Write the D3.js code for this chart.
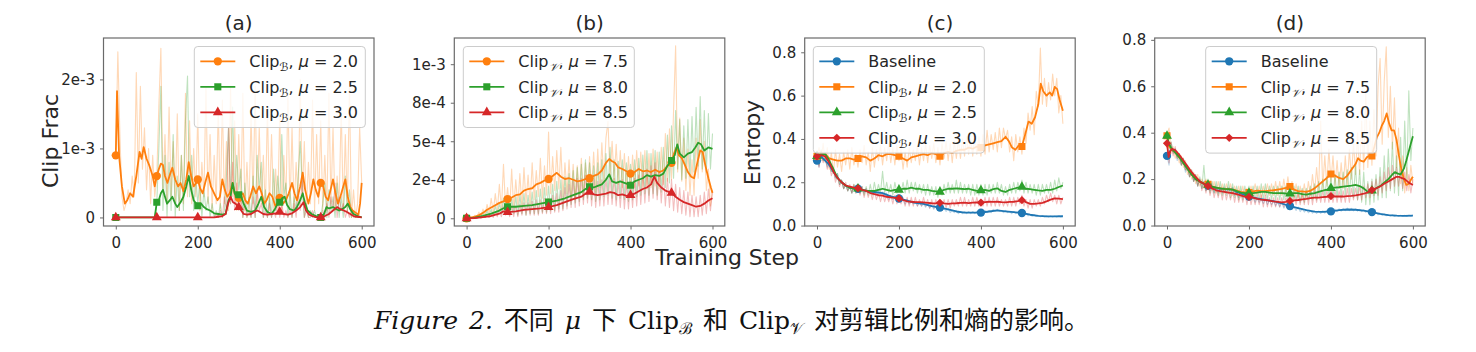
<!DOCTYPE html>
<html><head><meta charset="utf-8">
<script src="https://cdn.jsdelivr.net/npm/d3@7"></script>
<style>body{margin:0;background:#fff;} svg{display:block;} text{font-family:"DejaVu Sans",sans-serif;}</style>
</head><body><svg id="chart" width="1476" height="352"></svg>
<script>
// ---------------- DATA ----------------
const xTicks=[0,200,400,600];
const markerSteps=[0,100,200,300,400,500];
const panelTitles=["(a)","(b)","(c)","(d)"];
const yTicksA=[0,1,2]; const yTickLabelsA=["0","1e-3","2e-3"];           // units of 1e-3
const yTicksB=[0,2.5,5,7.5,10]; const yTickLabelsB=["0","2e-4","5e-4","8e-4","1e-3"]; // units of 1e-4
const yTicksC=[0,0.2,0.4,0.6,0.8]; const yTickLabelsC=["0.0","0.2","0.4","0.6","0.8"];
const yTicksD=[0,0.2,0.4,0.6,0.8]; const yTickLabelsD=["0.0","0.2","0.4","0.6","0.8"];
const legendMuA=["2.0","2.5","3.0"];
const legendMuB=["7.5","8.0","8.5"];
const legendMuC=["Baseline","2.0","2.5","3.0"];
const legendMuD=["Baseline","7.5","8.0","8.5"];

// raw curves: one value every 5 steps, 0..600
const aOrangeRaw=[0.9,2.4,1.2,0.3,0.1,0.2,0.4,0.2,0.6,0.3, 2.1,0.5,1.9,0.7,1.3,0.4,1.0,0.2,0.9,0.3, 0.6,1.6,2.45,0.4,1.2,0.2,1.6,0.3,1.1,0.2, 1.5,0.1,0.9,0.2,1.8,0.3,1.4,0.2,1.0,0.3, 1.5,0.1,0.8,0.3,1.9,0.2,1.2,0.1,0.9,0.2, 1.6,0.1,1.7,0.2,1.1,0.1,1.9,0.3,1.4,0.1, 1.2,0.2,1.8,0.1,0.8,0.1,1.5,0.2,1.9,0.1, 1.3,0.2,0.9,0.1,1.6,0.1,1.2,0.1,0.7,0.1, 1.5,0.1,0.9,0.2,1.8,0.1,1.3,0.1,0.8,0.2, 2.0,0.3,1.1,0.1,0.8,0.2,1.7,0.1,1.2,0.2, 1.4,0.1,0.9,0.1,1.8,0.2,1.3,0.1,0.6,0.2, 1.6,0.1,1.2,0.1,1.9,0.0,0.4,0.0,0.2,1.3, 0.5];
const aGreenRaw=[0,0,0,0,0,0,0,0,0,0, 0,0,0,0,0,0,0,0,0,0, 0.2,1.0,1.9,0.1,0.9,0.0,0.8,0.1,1.2,0.0, 0.6,0.1,0.9,0.1,1.4,2.05,0.3,0.9,0.1,0.6, 0.2,0.5,0.0,0.4,0.1,0.3,0.0,0.2,0.0,0.1, 0.0,0.2,0.0,0.1,0.6,1.3,0.2,1.6,0.3,0.9, 0.4,0.7,0.0,0.5,0.0,0.3,0.0,0.6,0.0,0.9, 0.4,0.8,0.0,0.4,0.0,0.3,0.0,0.7,0.1,0.6, 0.2,1.2,0.3,0.5,0.0,0.4,0.0,0.3,0.1,0.6, 1.1,0.4,0.0,0.2,0.0,0.1,0.0,0.1,0.0,0.0, 0.0,0.2,0.5,0.0,0.4,0.1,0.3,0.0,0.5,0.0, 0.3,0.0,0.6,0.1,0.4,0.0,0.1,0.0,0.0,0.0, 0.0];
const aRedRaw=[0,0,0,0,0,0,0,0,0,0, 0,0,0,0,0,0,0,0,0,0, 0,0,0,0,0,0,0,0,0,0, 0,0,0,0,0,0,0,0,0,0, 0,0,0,0,0,0,0,0,0,0.05, 0.0,0.1,0.0,0.3,0.1,1.3,0.2,0.8,0.1,0.5, 0.1,0.3,0.0,0.2,0.0,0.1,0.0,0.3,0.0,0.4, 0.1,0.2,0.0,0.1,0.0,0.2,0.0,0.1,0.0,0.3, 0.0,0.2,0.0,0.1,0.0,0.1,0.0,0.2,0.0,0.4, 0.1,0.6,0.0,0.1,0.0,0.0,0.1,0.0,0.0,0.0, 0.0,0.1,0.0,0.2,0.0,0.3,0.1,0.5,0.0,0.3, 0.1,0.2,0.0,0.1,0.0,0.1,0.0,0.0,0.0,0.0, 0.0];
const bOrangeRaw=[0,0.05,0.1,0.0,0.2,0.05,0.4,0.1,0.6,0.2, 0.9,0.3,1.3,0.4,1.6,0.5,2.2,0.6,3.5,0.7, 2.0,0.5,3.2,0.6,2.5,0.8,2.9,0.7,3.3,1.0, 2.8,0.9,3.6,1.2,3.1,1.4,3.9,1.3,3.4,1.5, 5.6,1.6,4.0,1.8,4.4,1.9,4.6,1.4,3.6,1.6, 3.8,1.3,3.5,1.2,3.4,1.5,3.9,1.4,3.6,1.6, 4.0,1.8,4.3,1.7,4.5,2.0,4.9,2.4,5.2,6.3, 2.6,5.0,2.5,4.8,2.2,4.4,2.0,4.2,1.9,4.0, 1.8,4.1,2.0,4.4,2.1,4.3,2.0,4.4,1.9,4.2, 2.0,4.5,2.1,4.3,1.9,4.6,2.2,5.5,2.4,5.8, 2.5,7.0,11.2,3.0,6.5,2.4,5.2,1.8,4.5,1.5, 3.8,1.5,5.2,2.6,6.4,3.0,5.0,1.8,3.2,0.8, 1.8];
const bGreenRaw=[0,0.0,0.05,0.0,0.1,0.0,0.15,0.05,0.3,0.05, 0.5,0.1,0.6,0.15,0.8,0.2,1.0,0.3,1.3,0.3, 1.2,0.2,1.3,0.3,1.4,0.2,1.5,0.3,1.6,0.2, 1.5,0.3,1.7,0.3,1.8,0.3,1.9,0.4,2.0,0.4, 2.1,0.5,2.2,0.5,2.4,0.6,2.5,0.6,2.7,0.8, 2.9,0.9,3.1,1.0,3.3,1.1,3.5,1.2,3.8,1.3, 3.6,1.2,3.4,1.1,3.6,1.2,3.8,1.4,4.2,1.5, 4.6,1.3,3.8,1.2,3.7,1.3,3.8,1.2,3.6,1.1, 3.5,1.2,3.8,1.4,3.9,1.5,4.1,1.6,4.4,1.5, 4.2,1.6,4.4,1.5,4.3,1.7,4.6,2.0,5.4,2.3, 6.0,2.6,7.0,3.2,6.4,2.5,6.0,2.6,6.4,2.7, 6.6,3.0,7.2,3.4,7.9,3.2,7.0,3.0,6.8,3.2, 5.5];
const bRedRaw=[0,0,0.0,0.0,0.05,0.0,0.1,0.0,0.15,0.05, 0.2,0.05,0.3,0.05,0.4,0.1,0.6,0.1,0.8,0.2, 0.7,0.1,0.8,0.1,0.8,0.1,0.9,0.2,1.0,0.2, 1.0,0.2,1.1,0.2,1.2,0.2,1.2,0.3,1.3,0.3, 1.3,0.3,1.5,0.4,1.6,0.4,1.8,0.5,2.0,0.6, 2.2,0.7,2.4,0.7,2.6,0.8,2.6,0.9,2.8,1.0, 2.7,0.8,2.5,0.7,2.4,0.8,2.5,0.8,2.6,0.9, 2.8,0.9,2.6,0.8,2.4,0.7,2.5,0.6,2.3,0.6, 2.4,0.7,2.6,0.8,2.8,0.9,3.0,1.0,3.2,1.1, 3.4,1.3,3.6,1.2,3.1,1.0,2.9,0.8,2.6,0.7, 2.5,0.5,2.2,0.4,2.0,0.3,1.8,0.2,1.7,0.1, 1.5,0.1,1.4,0.1,1.5,0.2,1.7,0.3,1.9,0.5, 1.8];
const cBlueRaw=[0.30,0.27,0.34,0.30,0.31,0.27,0.29,0.25,0.26,0.22, 0.24,0.19,0.21,0.17,0.19,0.16,0.18,0.15,0.18,0.16, 0.18,0.15,0.17,0.15,0.17,0.15,0.16,0.15,0.16,0.14, 0.16,0.14,0.155,0.13,0.15,0.12,0.14,0.12,0.13,0.12, 0.13,0.11,0.12,0.10,0.12,0.10,0.11,0.10,0.11,0.09, 0.105,0.09,0.10,0.085,0.10,0.08,0.095,0.075,0.09,0.07, 0.09,0.07,0.08,0.065,0.08,0.06,0.07,0.06,0.07,0.055, 0.065,0.055,0.065,0.055,0.065,0.055,0.065,0.055,0.065,0.055, 0.065,0.06,0.07,0.06,0.07,0.06,0.075,0.065,0.075,0.065, 0.07,0.06,0.07,0.06,0.065,0.055,0.065,0.055,0.062,0.052, 0.06,0.05,0.055,0.045,0.052,0.043,0.05,0.042,0.047,0.04, 0.046,0.04,0.045,0.039,0.044,0.039,0.044,0.039,0.045,0.04, 0.045];
const cOrangeRaw=[0.32,0.36,0.30,0.38,0.29,0.36,0.26,0.34,0.24,0.35, 0.27,0.33,0.25,0.34,0.28,0.35,0.26,0.36,0.28,0.33, 0.27,0.35,0.29,0.37,0.28,0.34,0.25,0.36,0.27,0.35, 0.30,0.37,0.28,0.36,0.30,0.38,0.29,0.36,0.28,0.37, 0.30,0.35,0.26,0.34,0.27,0.36,0.29,0.35,0.30,0.37, 0.28,0.36,0.30,0.38,0.29,0.37,0.31,0.38,0.29,0.36, 0.28,0.38,0.31,0.39,0.30,0.38,0.29,0.39,0.31,0.40, 0.31,0.40,0.32,0.41,0.33,0.40,0.32,0.42,0.33,0.41, 0.32,0.42,0.33,0.44,0.34,0.42,0.35,0.43,0.34,0.45, 0.36,0.45,0.40,0.44,0.34,0.41,0.30,0.42,0.34,0.41, 0.33,0.45,0.38,0.52,0.44,0.55,0.42,0.62,0.55,0.82, 0.56,0.68,0.55,0.66,0.58,0.70,0.60,0.68,0.52,0.60, 0.47];
const cGreenRaw=[0.32,0.28,0.35,0.30,0.34,0.28,0.30,0.25,0.27,0.22, 0.24,0.19,0.21,0.17,0.19,0.16,0.18,0.15,0.19,0.15, 0.19,0.15,0.18,0.14,0.18,0.14,0.19,0.14,0.20,0.15, 0.19,0.15,0.25,0.15,0.20,0.15,0.19,0.14,0.20,0.15, 0.19,0.15,0.20,0.15,0.21,0.15,0.20,0.16,0.20,0.15, 0.19,0.15,0.19,0.14,0.19,0.14,0.18,0.14,0.18,0.13, 0.18,0.14,0.19,0.15,0.20,0.15,0.19,0.15,0.21,0.15, 0.20,0.15,0.19,0.15,0.19,0.14,0.19,0.14,0.19,0.14, 0.19,0.14,0.19,0.14,0.19,0.15,0.19,0.15,0.20,0.15, 0.19,0.14,0.18,0.14,0.19,0.15,0.20,0.15,0.20,0.16, 0.21,0.15,0.20,0.15,0.19,0.15,0.19,0.14,0.19,0.14, 0.19,0.15,0.19,0.15,0.20,0.15,0.21,0.16,0.22,0.17, 0.20];
const cRedRaw=[0.32,0.27,0.34,0.29,0.32,0.26,0.29,0.23,0.26,0.20, 0.23,0.18,0.21,0.17,0.20,0.16,0.19,0.15,0.19,0.15, 0.18,0.14,0.18,0.13,0.17,0.13,0.16,0.12,0.16,0.12, 0.15,0.11,0.15,0.11,0.14,0.11,0.14,0.10,0.14,0.10, 0.13,0.10,0.13,0.09,0.13,0.09,0.13,0.09,0.13,0.09, 0.12,0.09,0.13,0.09,0.12,0.08,0.12,0.08,0.12,0.08, 0.12,0.08,0.12,0.08,0.12,0.08,0.12,0.09,0.12,0.09, 0.13,0.09,0.13,0.09,0.12,0.09,0.13,0.09,0.13,0.09, 0.12,0.09,0.13,0.09,0.13,0.09,0.13,0.09,0.13,0.09, 0.12,0.09,0.12,0.09,0.13,0.09,0.13,0.09,0.13,0.10, 0.14,0.09,0.12,0.08,0.12,0.08,0.12,0.09,0.12,0.09, 0.13,0.10,0.14,0.11,0.15,0.11,0.14,0.10,0.14,0.10, 0.13];
const dBlueRaw=[0.30,0.26,0.35,0.31,0.33,0.28,0.30,0.26,0.28,0.23, 0.25,0.21,0.23,0.19,0.21,0.17,0.20,0.16,0.19,0.15, 0.18,0.15,0.17,0.14,0.17,0.14,0.165,0.14,0.165,0.14, 0.165,0.14,0.165,0.13,0.15,0.12,0.145,0.12,0.135,0.11, 0.13,0.11,0.125,0.10,0.12,0.10,0.115,0.095,0.115,0.09, 0.11,0.09,0.105,0.085,0.10,0.08,0.10,0.075,0.09,0.07, 0.09,0.07,0.08,0.065,0.08,0.06,0.072,0.058,0.068,0.055, 0.065,0.053,0.063,0.052,0.062,0.052,0.063,0.053,0.065,0.055, 0.066,0.058,0.07,0.06,0.072,0.062,0.074,0.064,0.075,0.064, 0.074,0.063,0.072,0.062,0.07,0.06,0.068,0.057,0.065,0.054, 0.062,0.05,0.056,0.046,0.053,0.044,0.05,0.042,0.048,0.04, 0.046,0.039,0.045,0.039,0.044,0.039,0.044,0.039,0.045,0.04, 0.045];
const dOrangeRaw=[0.39,0.42,0.31,0.34,0.29,0.32,0.27,0.30,0.25,0.28, 0.22,0.25,0.20,0.23,0.18,0.22,0.17,0.20,0.16,0.20, 0.16,0.19,0.15,0.19,0.14,0.19,0.14,0.18,0.14,0.18, 0.14,0.18,0.13,0.17,0.13,0.17,0.12,0.17,0.12,0.16, 0.12,0.17,0.13,0.18,0.13,0.17,0.12,0.17,0.13,0.18, 0.13,0.18,0.13,0.19,0.13,0.19,0.13,0.20,0.14,0.21, 0.14,0.19,0.12,0.18,0.12,0.17,0.12,0.18,0.12,0.19, 0.13,0.22,0.14,0.25,0.15,0.45,0.16,0.30,0.17,0.33, 0.19,0.30,0.17,0.28,0.16,0.27,0.16,0.30,0.17,0.33, 0.20,0.36,0.22,0.40,0.22,0.45,0.24,0.57,0.25,0.45, 0.26,0.50,0.30,0.60,0.72,0.35,0.62,0.77,0.38,0.60, 0.33,0.55,0.25,0.42,0.18,0.30,0.14,0.25,0.15,0.26, 0.18];
const dGreenRaw=[0.39,0.33,0.36,0.32,0.33,0.29,0.31,0.26,0.29,0.24, 0.26,0.21,0.24,0.19,0.22,0.17,0.21,0.16,0.26,0.15, 0.20,0.14,0.19,0.14,0.19,0.13,0.19,0.13,0.18,0.13, 0.19,0.12,0.18,0.12,0.17,0.11,0.17,0.11,0.17,0.11, 0.17,0.11,0.17,0.11,0.17,0.11,0.18,0.11,0.18,0.11, 0.17,0.11,0.17,0.11,0.17,0.11,0.17,0.11,0.17,0.10, 0.16,0.11,0.17,0.11,0.17,0.10,0.16,0.10,0.16,0.11, 0.17,0.11,0.18,0.11,0.19,0.12,0.20,0.12,0.21,0.12, 0.21,0.12,0.22,0.12,0.23,0.12,0.23,0.13,0.24,0.13, 0.25,0.12,0.26,0.11,0.24,0.10,0.23,0.09,0.19,0.09, 0.20,0.10,0.22,0.11,0.25,0.12,0.30,0.12,0.33,0.15, 0.36,0.14,0.30,0.13,0.38,0.15,0.45,0.20,0.58,0.28, 0.42];
const dRedRaw=[0.35,0.27,0.36,0.30,0.34,0.29,0.31,0.26,0.29,0.24, 0.26,0.21,0.24,0.19,0.22,0.17,0.20,0.15,0.19,0.14, 0.19,0.13,0.17,0.12,0.16,0.12,0.16,0.11,0.16,0.11, 0.15,0.11,0.15,0.10,0.15,0.10,0.14,0.10,0.14,0.09, 0.14,0.09,0.13,0.09,0.13,0.09,0.13,0.08,0.13,0.08, 0.12,0.08,0.12,0.08,0.12,0.08,0.12,0.08,0.12,0.08, 0.13,0.08,0.13,0.09,0.14,0.09,0.14,0.09,0.15,0.09, 0.15,0.09,0.15,0.10,0.15,0.10,0.15,0.10,0.15,0.10, 0.16,0.10,0.15,0.10,0.15,0.10,0.15,0.10,0.16,0.10, 0.16,0.11,0.16,0.11,0.17,0.11,0.17,0.12,0.18,0.12, 0.19,0.13,0.20,0.13,0.21,0.14,0.23,0.15,0.25,0.16, 0.26,0.17,0.25,0.17,0.24,0.16,0.23,0.15,0.22,0.14, 0.20];

// smoothed curves: [step, value]
const aOrangeSmooth=[[0,0.9],[3,1.83],[8,0.9],[15,0.45],[22,0.2],[28,0.25],[35,0.35],[42,0.3],[50,0.6],[58,0.95],[63,0.85],[68,1.02],[75,0.85],[82,0.75],[90,0.6],[95,0.45],[100,0.6],[105,0.7],[110,0.78],[115,0.76],[120,0.6],[126,0.5],[132,0.62],[138,0.72],[145,0.55],[152,0.45],[158,0.5],[165,0.38],[172,0.55],[178,0.8],[184,0.6],[190,0.45],[196,0.5],[200,0.55],[206,0.42],[212,0.35],[218,0.5],[225,0.65],[232,0.45],[240,0.35],[248,0.25],[254,0.3],[260,0.55],[266,0.4],[272,0.3],[278,0.35],[285,0.5],[290,0.35],[296,0.25],[302,0.3],[310,0.35],[316,0.25],[322,0.2],[328,0.3],[335,0.45],[342,0.35],[350,0.45],[356,0.35],[362,0.2],[368,0.25],[375,0.35],[382,0.3],[390,0.15],[396,0.25],[402,0.3],[408,0.2],[415,0.25],[422,0.35],[430,0.5],[436,0.35],[442,0.25],[450,0.45],[456,0.65],[462,0.4],[470,0.2],[476,0.35],[482,0.55],[488,0.4],[494,0.3],[500,0.5],[506,0.45],[512,0.3],[518,0.25],[524,0.4],[530,0.55],[536,0.35],[542,0.2],[548,0.3],[555,0.45],[560,0.55],[566,0.3],[572,0.15],[578,0.1],[585,0.07],[592,0.04],[596,0.2],[600,0.5]];
const aGreenSmooth=[[0,0],[95,0],[100,0.22],[105,0.25],[110,0.35],[115,0.4],[120,0.3],[125,0.2],[132,0.25],[138,0.3],[145,0.2],[150,0.15],[158,0.22],[165,0.3],[172,0.45],[178,0.6],[184,0.4],[190,0.25],[196,0.2],[200,0.17],[208,0.2],[215,0.15],[222,0.12],[230,0.1],[240,0.06],[250,0.05],[260,0.04],[268,0.05],[275,0.25],[280,0.3],[285,0.5],[290,0.35],[295,0.3],[300,0.33],[306,0.3],[312,0.2],[320,0.1],[330,0.08],[340,0.1],[348,0.2],[355,0.3],[362,0.15],[370,0.08],[380,0.05],[388,0.12],[395,0.2],[400,0.22],[406,0.28],[412,0.3],[418,0.18],[425,0.12],[435,0.1],[442,0.15],[450,0.25],[456,0.35],[462,0.2],[468,0.1],[478,0.05],[488,0.02],[495,0.0],[500,0.0],[508,0.05],[514,0.15],[520,0.13],[530,0.15],[538,0.12],[545,0.1],[552,0.12],[560,0.15],[566,0.2],[572,0.12],[580,0.05],[590,0.02],[600,0.0]];
const aRedSmooth=[[0,0],[240,0],[250,0.01],[260,0.02],[268,0.05],[274,0.2],[280,0.3],[286,0.22],[292,0.2],[300,0.15],[306,0.1],[312,0.05],[320,0.04],[330,0.05],[338,0.08],[345,0.1],[352,0.08],[360,0.05],[370,0.04],[380,0.05],[390,0.06],[400,0.08],[410,0.05],[420,0.04],[430,0.06],[440,0.1],[450,0.15],[458,0.22],[464,0.1],[472,0.04],[480,0.02],[490,0.0],[500,0.0],[510,0.02],[520,0.05],[530,0.1],[540,0.15],[548,0.12],[556,0.1],[564,0.08],[572,0.05],[580,0.02],[590,0.01],[600,0.0]];
const bOrangeSmooth=[[0,0],[10,0.05],[20,0.1],[30,0.2],[40,0.35],[50,0.55],[60,0.7],[70,0.85],[80,1.0],[90,1.1],[100,1.25],[110,1.35],[120,1.5],[130,1.55],[140,1.8],[150,1.9],[160,1.95],[170,2.2],[180,2.3],[190,2.45],[200,2.55],[210,2.75],[220,2.95],[230,2.7],[240,2.55],[250,2.6],[260,2.5],[270,2.4],[280,2.45],[290,2.55],[300,2.6],[310,2.75],[320,2.85],[330,3.1],[340,3.6],[348,3.85],[355,3.7],[362,3.6],[370,3.3],[380,3.2],[390,3.05],[400,2.9],[410,3.0],[420,3.2],[430,3.05],[440,3.1],[450,3.0],[460,3.15],[470,3.0],[480,3.1],[490,3.4],[500,3.6],[506,4.2],[512,4.6],[518,4.1],[525,3.9],[532,3.5],[540,3.0],[548,2.7],[555,2.6],[562,3.5],[570,4.4],[576,4.3],[582,3.5],[590,2.6],[596,2.0],[600,1.65]];
const bGreenSmooth=[[0,0],[20,0.05],[40,0.15],[60,0.3],[80,0.5],[90,0.65],[100,0.75],[120,0.75],[140,0.8],[160,0.85],[180,0.95],[200,1.05],[220,1.15],[240,1.3],[260,1.5],[280,1.7],[290,1.9],[300,2.05],[310,2.0],[320,2.1],[330,2.2],[340,2.5],[348,2.85],[355,2.4],[365,2.3],[375,2.4],[385,2.3],[395,2.2],[400,2.15],[410,2.4],[420,2.5],[430,2.6],[440,2.8],[450,2.7],[460,2.8],[470,2.75],[480,2.9],[490,3.4],[500,3.75],[508,4.1],[514,4.8],[520,4.2],[530,3.95],[540,4.2],[550,4.3],[558,4.6],[565,4.9],[572,4.8],[580,4.4],[590,4.6],[600,4.5]];
const bRedSmooth=[[0,0],[20,0.02],[40,0.08],[60,0.15],[80,0.3],[90,0.45],[100,0.4],[120,0.45],[140,0.55],[160,0.6],[180,0.65],[200,0.72],[220,0.85],[240,1.05],[260,1.25],[280,1.4],[290,1.6],[300,1.72],[310,1.55],[320,1.5],[330,1.55],[340,1.6],[350,1.7],[360,1.65],[370,1.5],[380,1.55],[390,1.45],[400,1.5],[410,1.6],[420,1.75],[430,1.9],[440,2.0],[450,2.2],[458,2.7],[465,2.3],[475,2.0],[485,1.8],[495,1.7],[500,1.65],[510,1.4],[520,1.2],[530,1.05],[540,0.95],[550,0.85],[560,0.75],[570,0.8],[580,0.95],[590,1.15],[600,1.3]];
const cBlueSmooth=[[0,0.30],[5,0.3],[10,0.32],[20,0.30],[30,0.28],[40,0.25],[50,0.22],[60,0.2],[70,0.185],[80,0.175],[90,0.17],[100,0.17],[120,0.16],[140,0.155],[160,0.15],[180,0.135],[200,0.125],[220,0.115],[240,0.105],[260,0.1],[280,0.09],[300,0.083],[320,0.075],[340,0.065],[360,0.06],[380,0.06],[400,0.06],[420,0.065],[440,0.07],[460,0.066],[480,0.062],[500,0.058],[520,0.05],[540,0.045],[560,0.042],[580,0.042],[600,0.043]];
const cOrangeSmooth=[[0,0.32],[10,0.335],[20,0.33],[30,0.31],[40,0.305],[50,0.30],[60,0.30],[70,0.31],[80,0.31],[90,0.305],[100,0.31],[110,0.32],[120,0.315],[130,0.30],[140,0.31],[150,0.325],[160,0.32],[170,0.33],[180,0.33],[190,0.325],[200,0.32],[210,0.31],[220,0.30],[230,0.315],[240,0.32],[250,0.325],[260,0.33],[270,0.325],[280,0.335],[290,0.33],[300,0.32],[310,0.335],[320,0.34],[330,0.335],[340,0.345],[350,0.35],[360,0.35],[370,0.36],[380,0.355],[390,0.365],[400,0.36],[410,0.37],[420,0.375],[430,0.38],[440,0.385],[450,0.39],[460,0.41],[468,0.39],[476,0.36],[484,0.35],[492,0.37],[500,0.365],[508,0.42],[516,0.48],[524,0.47],[532,0.5],[540,0.56],[546,0.655],[552,0.62],[560,0.6],[568,0.615],[574,0.6],[580,0.64],[586,0.63],[592,0.58],[600,0.53]];
const cGreenSmooth=[[0,0.32],[10,0.33],[20,0.33],[30,0.3],[40,0.26],[50,0.22],[60,0.2],[70,0.185],[80,0.175],[90,0.17],[100,0.17],[110,0.165],[120,0.16],[130,0.16],[140,0.16],[150,0.165],[160,0.17],[170,0.165],[180,0.16],[190,0.165],[200,0.165],[210,0.17],[220,0.17],[230,0.175],[240,0.17],[250,0.17],[260,0.165],[270,0.165],[280,0.16],[290,0.158],[300,0.155],[310,0.165],[320,0.17],[330,0.17],[340,0.172],[350,0.17],[360,0.168],[370,0.17],[380,0.165],[390,0.16],[400,0.162],[410,0.165],[420,0.16],[430,0.168],[440,0.172],[450,0.16],[460,0.155],[470,0.165],[480,0.17],[490,0.175],[500,0.178],[510,0.17],[520,0.168],[530,0.165],[540,0.162],[550,0.16],[560,0.165],[570,0.165],[580,0.17],[590,0.178],[600,0.185]];
const cRedSmooth=[[0,0.32],[10,0.325],[20,0.32],[30,0.29],[40,0.25],[50,0.22],[60,0.2],[70,0.185],[80,0.18],[90,0.175],[100,0.172],[110,0.165],[120,0.16],[130,0.15],[140,0.145],[150,0.14],[160,0.138],[170,0.133],[180,0.13],[190,0.128],[200,0.125],[210,0.118],[220,0.112],[230,0.11],[240,0.108],[250,0.108],[260,0.107],[270,0.105],[280,0.103],[290,0.102],[300,0.105],[310,0.102],[320,0.1],[330,0.102],[340,0.103],[350,0.105],[360,0.106],[370,0.104],[380,0.106],[390,0.107],[400,0.106],[410,0.108],[420,0.11],[430,0.109],[440,0.11],[450,0.108],[460,0.107],[470,0.109],[480,0.11],[490,0.113],[500,0.117],[510,0.108],[520,0.1],[530,0.1],[540,0.102],[550,0.105],[560,0.112],[570,0.12],[580,0.126],[590,0.124],[600,0.122]];
const dBlueSmooth=[[0,0.30],[5,0.31],[10,0.33],[20,0.315],[30,0.295],[40,0.27],[50,0.245],[60,0.22],[70,0.2],[80,0.19],[90,0.18],[100,0.172],[110,0.165],[120,0.16],[140,0.157],[160,0.155],[170,0.145],[180,0.138],[200,0.125],[220,0.117],[240,0.11],[260,0.105],[280,0.095],[300,0.084],[320,0.075],[340,0.066],[360,0.06],[380,0.059],[400,0.061],[420,0.066],[440,0.069],[460,0.068],[480,0.064],[500,0.058],[520,0.05],[540,0.045],[560,0.043],[580,0.042],[600,0.043]];
const dOrangeSmooth=[[0,0.387],[5,0.34],[10,0.33],[20,0.315],[30,0.295],[40,0.27],[50,0.245],[60,0.22],[70,0.2],[80,0.19],[90,0.18],[100,0.178],[110,0.168],[120,0.163],[130,0.16],[140,0.158],[150,0.157],[160,0.155],[170,0.15],[180,0.145],[190,0.143],[200,0.142],[210,0.147],[220,0.15],[230,0.148],[240,0.148],[250,0.15],[260,0.152],[270,0.155],[280,0.158],[290,0.162],[300,0.168],[310,0.155],[320,0.148],[330,0.147],[340,0.145],[350,0.15],[360,0.16],[370,0.175],[380,0.19],[390,0.205],[400,0.222],[410,0.215],[420,0.205],[430,0.2],[440,0.215],[450,0.24],[460,0.265],[466,0.29],[472,0.28],[480,0.275],[488,0.295],[494,0.3],[500,0.3],[506,0.34],[512,0.38],[518,0.4],[524,0.43],[530,0.45],[536,0.483],[542,0.44],[548,0.41],[554,0.41],[560,0.37],[566,0.3],[572,0.24],[578,0.2],[584,0.175],[590,0.18],[596,0.2],[600,0.21]];
const dGreenSmooth=[[0,0.386],[5,0.35],[10,0.335],[20,0.315],[30,0.295],[40,0.27],[50,0.245],[60,0.22],[70,0.2],[80,0.19],[90,0.18],[100,0.175],[110,0.168],[120,0.163],[130,0.16],[140,0.158],[150,0.157],[160,0.155],[170,0.148],[180,0.142],[190,0.14],[200,0.14],[210,0.14],[220,0.142],[230,0.145],[240,0.145],[250,0.142],[260,0.14],[270,0.14],[280,0.14],[290,0.138],[300,0.137],[310,0.14],[320,0.14],[330,0.135],[340,0.133],[350,0.137],[360,0.14],[370,0.145],[380,0.15],[390,0.155],[400,0.161],[410,0.163],[420,0.165],[430,0.168],[440,0.17],[450,0.172],[460,0.175],[470,0.17],[480,0.16],[490,0.145],[500,0.15],[510,0.16],[520,0.17],[530,0.185],[540,0.2],[550,0.22],[556,0.23],[562,0.225],[570,0.22],[578,0.245],[584,0.28],[590,0.32],[596,0.36],[600,0.385]];
const dRedSmooth=[[0,0.354],[4,0.295],[8,0.32],[12,0.33],[20,0.325],[30,0.305],[40,0.28],[50,0.255],[60,0.23],[70,0.21],[80,0.19],[90,0.18],[100,0.17],[110,0.16],[120,0.152],[130,0.148],[140,0.145],[150,0.142],[160,0.14],[170,0.135],[180,0.13],[190,0.125],[200,0.123],[210,0.12],[220,0.115],[230,0.112],[240,0.11],[250,0.107],[260,0.104],[270,0.102],[280,0.1],[290,0.102],[300,0.106],[310,0.108],[320,0.11],[330,0.113],[340,0.115],[350,0.118],[360,0.12],[370,0.12],[380,0.122],[390,0.124],[400,0.127],[410,0.125],[420,0.125],[430,0.125],[440,0.127],[450,0.128],[460,0.13],[470,0.133],[480,0.137],[490,0.143],[500,0.153],[510,0.16],[520,0.168],[530,0.18],[540,0.19],[550,0.2],[560,0.21],[566,0.21],[572,0.205],[580,0.2],[590,0.185],[600,0.175]];

// ---------------- STYLE / LAYOUT ----------------
const C={blue:"#1f77b4",orange:"#ff7f0e",green:"#2ca02c",red:"#d62728"};
const TXT="#262626", SPINE="#6a6a6a";
const BOXW=270.5, TOP=38, BOTTOM=226;
const TICKFS=15, LEGFS=16;
const panels=[
 {left:103.5, ydom:[-0.124,2.6], yt:yTicksA, yl:yTickLabelsA, sub:"ℬ", mus:legendMuA, legX:194.3,
  series:[{c:C.orange,m:"circle",raw:aOrangeRaw,sm:aOrangeSmooth},{c:C.green,m:"square",raw:aGreenRaw,sm:aGreenSmooth},{c:C.red,m:"triangle",raw:aRedRaw,sm:aRedSmooth}]},
 {left:454.3, ydom:[-0.5,11.7], yt:yTicksB, yl:yTickLabelsB, sub:"𝒱", mus:legendMuB, legX:463.3,
  series:[{c:C.orange,m:"circle",raw:bOrangeRaw,sm:bOrangeSmooth},{c:C.green,m:"square",raw:bGreenRaw,sm:bGreenSmooth},{c:C.red,m:"triangle",raw:bRedRaw,sm:bRedSmooth}]},
 {left:804.7, ydom:[-0.002,0.866], yt:yTicksC, yl:yTickLabelsC, sub:"ℬ", mus:legendMuC, legX:813.3,
  series:[{c:C.blue,m:"circle",raw:cBlueRaw,sm:cBlueSmooth},{c:C.orange,m:"square",raw:cOrangeRaw,sm:cOrangeSmooth},{c:C.green,m:"triangle",raw:cGreenRaw,sm:cGreenSmooth},{c:C.red,m:"diamond",raw:cRedRaw,sm:cRedSmooth}]},
 {left:1154.7, ydom:[-0.002,0.808], yt:yTicksD, yl:yTickLabelsD, sub:"𝒱", mus:legendMuD, legX:1205.7,
  series:[{c:C.blue,m:"circle",raw:dBlueRaw,sm:dBlueSmooth},{c:C.orange,m:"square",raw:dOrangeRaw,sm:dOrangeSmooth},{c:C.green,m:"triangle",raw:dGreenRaw,sm:dGreenSmooth},{c:C.red,m:"diamond",raw:dRedRaw,sm:dRedSmooth}]}
];

const svg=d3.select("#chart");
svg.append("rect").attr("width",1476).attr("height",352).attr("fill","#fff");

function symbolPath(m){
  if(m==="circle") return d3.symbol().type(d3.symbolCircle).size(54)();
  if(m==="square") return d3.symbol().type(d3.symbolSquare).size(50)();
  if(m==="triangle") return d3.symbol().type(d3.symbolTriangle).size(42)();
  return d3.symbol().type(d3.symbolSquare).size(34)();
}
function valueAt(pairs,s){
  const i=d3.bisector(d=>d[0]).left(pairs,s);
  if(i<pairs.length && pairs[i][0]===s) return pairs[i][1];
  const a=pairs[i-1], b=pairs[i];
  return a[1]+(b[1]-a[1])*(s-a[0])/(b[0]-a[0]);
}

panels.forEach((p,pi)=>{
  const x=d3.scaleLinear().domain([-30,630]).range([p.left,p.left+BOXW]);
  const y=d3.scaleLinear().domain(p.ydom).range([BOTTOM,TOP]);
  const g=svg.append("g");
  const cid="clip"+pi;
  svg.append("defs").append("clipPath").attr("id",cid).append("rect")
     .attr("x",p.left).attr("y",TOP).attr("width",BOXW).attr("height",BOTTOM-TOP);
  const plot=g.append("g").attr("clip-path",`url(#${cid})`);
  const line=d3.line().x(d=>x(d[0])).y(d=>y(d[1]));
  p.series.forEach(s=>{
    const pts=s.raw.map((v,i)=>[i*600/(s.raw.length-1),v]);
    plot.append("path").attr("d",line(pts)).attr("fill","none").attr("stroke",s.c)
      .attr("stroke-width",1.1).attr("stroke-opacity",0.3).attr("stroke-linejoin","round");
  });
  p.series.forEach(s=>{
    plot.append("path").attr("d",line(s.sm)).attr("fill","none").attr("stroke",s.c)
      .attr("stroke-width",1.8).attr("stroke-linejoin","round");
    markerSteps.forEach(ms=>{
      plot.append("path").attr("d",symbolPath(s.m)).attr("fill",s.c)
        .attr("transform",`translate(${x(ms)},${y(valueAt(s.sm,ms))})${s.m==="diamond"?" rotate(45)":""}`);
    });
  });
  // spines
  g.append("rect").attr("x",p.left).attr("y",TOP).attr("width",BOXW).attr("height",BOTTOM-TOP)
    .attr("fill","none").attr("stroke",SPINE).attr("stroke-width",1.2);
  // axes
  const xa=g.append("g").attr("transform",`translate(0,${BOTTOM})`)
    .call(d3.axisBottom(x).tickValues(xTicks).tickSize(3.5).tickPadding(8).tickFormat(d3.format("d")));
  const ya=g.append("g").attr("transform",`translate(${p.left},0)`)
    .call(d3.axisLeft(y).tickValues(p.yt).tickSize(3.5).tickPadding(5).tickFormat((d,i)=>p.yl[i]));
  [xa,ya].forEach(a=>{
    a.select(".domain").remove();
    a.selectAll("line").attr("stroke",SPINE).attr("stroke-width",1);
    a.selectAll("text").attr("fill",TXT).style("font-size",TICKFS+"px").style("font-family","DejaVu Sans");
  });
  // title
  g.append("text").attr("x",p.left+BOXW/2).attr("y",30.4).attr("text-anchor","middle")
    .attr("fill",TXT).style("font-size","20px").text(panelTitles[pi]);
  // legend
  const n=p.series.length, LW=171, LH=n===3?81:106.6, LT=46.5;
  const lg=g.append("g");
  lg.append("rect").attr("x",p.legX).attr("y",LT).attr("width",LW).attr("height",LH).attr("rx",3.5)
    .attr("fill","#fff").attr("fill-opacity",0.8).attr("stroke","#cccccc").attr("stroke-width",1);
  p.series.forEach((s,i)=>{
    const ry=LT+14.8+i*25.5;
    lg.append("line").attr("x1",p.legX+6).attr("x2",p.legX+41).attr("y1",ry).attr("y2",ry)
      .attr("stroke",s.c).attr("stroke-width",1.8);
    lg.append("path").attr("d",symbolPath(s.m)).attr("fill",s.c)
      .attr("transform",`translate(${p.legX+23.5},${ry})${s.m==="diamond"?" rotate(45)":""}`);
    const t=lg.append("text").attr("x",p.legX+55).attr("y",ry+5.8).attr("fill",TXT).style("font-size",LEGFS+"px");
    const mu=p.mus[i];
    if(mu==="Baseline"){ t.append("tspan").text("Baseline"); }
    else{
      t.append("tspan").text("Clip");
      t.append("tspan").attr("dy",4).style("font-size","11.5px").style("font-style","italic").text(p.sub);
      t.append("tspan").attr("dy",-4).text(", ");
      t.append("tspan").style("font-style","italic").text("μ");
      t.append("tspan").text(" = "+mu);
    }
  });
});

// axis labels
svg.append("text").attr("transform","translate(58,141) rotate(-90)").attr("text-anchor","middle")
  .attr("fill",TXT).style("font-size","22px").text("Clip Frac");
svg.append("text").attr("transform","translate(759.5,142.5) rotate(-90)").attr("text-anchor","middle")
  .attr("fill",TXT).style("font-size","22px").text("Entropy");
svg.append("text").attr("x",727).attr("y",265).attr("text-anchor","middle")
  .attr("fill",TXT).style("font-size","22px").text("Training Step");

// caption
const cap=svg.append("text").attr("x",731.5).attr("y",329).attr("text-anchor","middle").attr("fill","#111")
  .style("font-family","'DejaVu Serif','Noto Sans CJK SC',serif").style("font-size","25px").style("word-spacing","3px");
cap.append("tspan").style("font-style","italic").text("Figure 2.");
cap.append("tspan").text(" 不同 ");
cap.append("tspan").style("font-style","italic").text("μ");
cap.append("tspan").text(" 下 Clip");
cap.append("tspan").attr("dy",5).style("font-size","16px").text("ℬ");
cap.append("tspan").attr("dy",-5).text(" 和 Clip");
cap.append("tspan").attr("dy",5).style("font-size","16px").text("𝒱");
cap.append("tspan").attr("dy",-5).text(" 对剪辑比例和熵的影响。");
</script></body></html>
